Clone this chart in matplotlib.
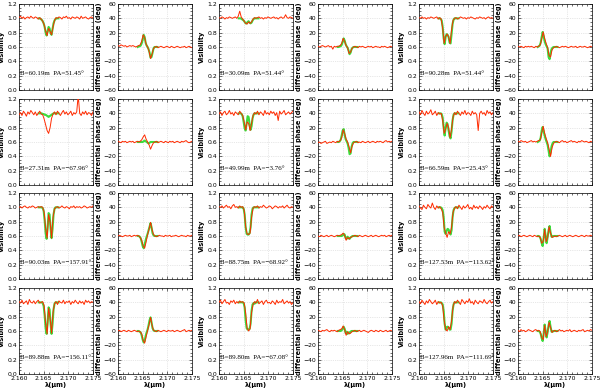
import numpy as np
import matplotlib.pyplot as plt
from matplotlib.ticker import MultipleLocator, FormatStrFormatter

plt.rcParams['font.family'] = ['DejaVu Sans']

# baselines / position angles, row by row (3 per row)
baselines = [60.19, 30.09, 90.28, 27.31, 49.99, 66.59,
             90.03, 88.75, 127.53, 89.88, 89.80, 127.96]
pos_angles = [51.45, 51.44, 51.44, -67.96, -3.76, -25.43,
              -157.91, -68.92, -113.62, -156.11, -67.08, -111.69]

# observed visibility (x100) and differential phase (deg), 2.160-2.175 um
v_obs_1 = [101,103,100,102,99,101,102,100,103,101,100,102,101,99,101, 99,96,91,82,76,86,82,77,88,97, 101,100,102,101,99,102,101,103,100,101,99,102,101,100,102,101,99,103,100,101,102,100,99,101,102,100]
dp_obs_1 = [2,1,3,2,1,2,0,1,2,1,2,1,0,1,2, 3,8,17,13,4,0,-6,-16,-10,-2, 0,1,-1,0,1,0,-1,0,1,0,-1,1,0,-1,0,1,0,-1,0,0,1,-1,0,1,0,-1]
v_obs_2 = [101,100,102,101,99,101,100,102,101,100,101,102,100,103,110, 102,99,96,93,92,95,93,95,99,101, 100,101,102,100,101,99,101,100,102,101,100,101,102,100,101,99,101,102,100,101,105,101,100,102,101,100]
dp_obs_2 = [1,0,1,2,1,0,1,2,0,1,-3,1,0,1,1, 2,5,12,8,2,-1,-9,-7,-2,0, 1,0,-1,1,0,1,0,-1,0,1,0,1,-1,0,1,0,0,-1,1,0,1,0,-1,0,1,0]
v_obs_3 = [101,100,102,100,101,99,101,100,102,101,100,101,102,99,101, 99,86,65,75,78,74,65,84,97,100, 101,99,100,102,101,100,101,99,101,100,102,101,100,99,101,100,102,101,100,101,99,101,102,100,101,100]
dp_obs_3 = [1,0,1,0,-1,1,0,1,0,1,0,-1,1,0,1, 3,11,21,12,5,-1,-12,-14,-4,-1, 0,1,0,-1,0,1,0,1,0,-1,0,1,0,0,1,-1,0,1,0,0,1,0,-1,0,1,0]
v_obs_4 = [98,101,97,103,100,96,102,99,104,101,98,102,97,100,103, 99,98,92,84,76,72,80,93,99,102, 98,103,100,97,101,104,99,102,98,100,103,97,101,99,102,125,100,97,102,99,103,98,101,100,97,102]
dp_obs_4 = [1,0,-1,1,0,1,-1,0,1,0,1,-1,0,1,0, 1,3,7,10,4,0,-4,-10,-5,-1, 0,1,-1,0,1,0,-1,1,0,-1,1,0,1,-1,0,1,0,-1,1,0,1,2,0,-1,0,1]
v_obs_5 = [99,102,97,101,103,98,100,104,99,101,97,102,100,98,103, 100,97,88,77,88,86,76,86,97,101, 99,103,98,102,100,97,104,99,101,98,103,100,102,97,101,90,103,99,101,104,98,100,102,99,101,103]
dp_obs_5 = [-1,0,-2,-1,0,1,-2,-1,0,-1,1,0,-1,1,0, 2,6,17,12,4,0,-7,-15,-6,-1, 0,1,-1,0,-1,1,0,-1,0,1,-1,0,1,0,-1,1,0,1,0,-1,1,2,0,1,0,1]
v_obs_6 = [102,98,104,100,97,103,99,101,105,98,100,103,97,101,99, 100,90,72,78,86,80,66,78,95,101, 98,103,100,97,102,99,104,98,101,100,97,103,99,101,98,76,100,103,99,101,97,104,100,102,98,101]
dp_obs_6 = [1,0,2,1,0,1,-1,0,1,2,0,1,0,1,2, 3,12,22,12,5,-1,-10,-20,-8,-2, 0,1,0,-1,1,2,0,1,-1,0,1,2,0,1,0,-1,1,0,2,1,0,1,0,-1,1,0]
v_obs_7 = [100,101,99,101,102,100,99,101,100,102,101,99,100,101,100, 101,100,93,70,57,90,80,57,86,98, 100,101,99,100,102,100,99,101,100,98,101,100,102,99,101,100,101,99,100,102,101,99,100,101,100,102]
dp_obs_7 = [0,1,0,-1,0,1,0,0,1,-1,0,1,0,1,0, -2,-6,-14,-17,-8,2,10,19,9,2, 0,-1,0,1,0,0,-1,1,0,0,1,-1,0,0,1,0,-1,0,1,0,0,-1,1,0,0,1]
v_obs_8 = [101,100,102,99,101,103,100,101,98,102,104,100,101,99,102, 100,101,96,73,63,62,64,86,99,101, 100,102,99,101,100,103,101,99,100,102,101,98,100,102,101,99,101,100,102,99,101,103,100,99,101,100]
dp_obs_8 = [0,-1,1,0,-1,0,1,-1,0,1,0,-1,0,1,0, 1,2,4,1,-6,-2,-4,-2,-1,0, 1,0,-1,1,0,-1,0,1,0,-1,0,1,-1,0,1,0,-1,0,1,0,1,-1,0,1,0,1]
v_obs_9 = [102,99,97,103,100,98,104,101,99,106,100,97,102,99,101, 98,93,72,64,58,66,63,72,93,99, 101,98,103,100,97,102,99,101,104,98,100,97,103,99,101,98,102,100,97,101,99,103,100,98,102,100]
dp_obs_9 = [0,1,-1,0,1,0,-1,0,1,0,-1,1,0,-1,0, -2,-10,-8,9,-8,-2,13,4,-2,-1, 0,-1,0,1,0,-1,0,1,-1,0,1,0,-1,0,1,0,-1,0,1,0,-1,1,0,0,1,0]
v_obs_10 = [101,99,103,98,100,102,97,104,100,99,102,98,101,103,99, 100,101,95,70,56,92,78,57,86,98, 101,97,102,100,99,103,98,101,100,102,97,101,99,103,100,98,102,99,101,97,103,100,102,99,101,100]
dp_obs_10 = [0,1,-1,0,1,0,-1,1,0,-1,0,1,0,-1,0, -1,-4,-13,-17,-8,1,9,19,8,1, 0,-1,1,0,-1,0,1,0,-1,1,0,0,1,-1,0,1,0,-1,0,1,2,-1,0,1,0,1]
v_obs_11 = [100,103,98,101,104,99,100,97,102,100,103,98,101,99,102, 100,101,99,85,64,60,63,86,97,101, 99,104,98,100,102,97,101,103,99,100,98,102,100,97,103,99,101,100,104,98,100,102,99,101,97,100]
dp_obs_11 = [1,0,-1,1,0,1,2,0,-1,1,0,1,0,-1,1, 2,3,7,2,-6,-1,-4,-3,-1,0, 1,-1,0,1,-1,0,1,0,-1,-2,0,1,0,-1,1,0,-1,1,0,-1,0,1,-1,0,1,0]
v_obs_12 = [101,98,103,100,97,102,99,104,101,98,100,103,97,101,99, 100,95,75,62,60,66,62,74,94,101, 99,103,100,97,104,101,98,102,100,105,99,101,97,103,100,98,102,101,99,104,100,98,101,103,99,101]
dp_obs_12 = [1,-1,2,0,1,-1,0,2,1,0,-1,1,2,0,1, -1,-9,-12,8,-8,-1,12,5,-2,0, 1,-1,0,2,0,1,-1,0,1,0,2,-1,0,1,0,-1,1,0,1,2,-1,0,1,0,2,1]

# model visibility (x100) and phase (deg), 2.1640-2.1680 um
v_mod_1 = [100,100,99,98,96,93,88,80,76,82,88,86,79,77,85,93,97,99,100,100,100]
dp_mod_1 = [0,1,1,2,5,10,17,14,6,2,0,-3,-8,-15,-14,-8,-2,0,0,0,0]
v_mod_2 = [100,100,100,99,98,97,95,93,93,95,96,94,93,94,97,99,100,100,100,100,100]
dp_mod_2 = [0,0,1,1,3,7,12,9,4,1,-1,-5,-10,-8,-3,-1,0,0,0,0,0]
v_mod_3 = [100,100,99,97,88,72,64,74,78,77,74,66,65,78,92,98,100,100,100,100,100]
dp_mod_3 = [0,1,2,6,14,21,15,8,4,1,-2,-14,-17,-8,-3,-1,0,0,0,0,0]
v_mod_4 = [100,100,100,100,99,99,98,98,97,96,95,96,97,98,99,100,100,100,100,100,100]
dp_mod_4 = [0,0,0,0,0,0,1,2,1,0,-1,-2,-1,0,0,0,0,0,0,0,0]
v_mod_5 = [100,100,100,99,96,88,79,76,86,96,95,85,77,82,93,98,100,100,100,100,100]
dp_mod_5 = [0,0,1,3,9,16,18,10,4,1,-2,-8,-17,-16,-7,-2,0,0,0,0,0]
v_mod_6 = [100,100,100,99,94,80,69,80,87,85,76,68,65,75,90,98,100,100,100,100,100]
dp_mod_6 = [0,1,2,6,16,21,15,9,4,0,-4,-12,-20,-15,-6,-2,0,0,0,0,0]
v_mod_7 = [100,100,100,100,99,95,82,64,56,72,92,90,70,57,70,90,98,100,100,100,100]
dp_mod_7 = [0,0,-1,-3,-8,-14,-17,-12,-6,-1,3,8,13,18,12,4,1,0,0,0,0]
v_mod_8 = [100,100,100,100,100,98,90,72,63,62,62,64,72,90,98,100,100,100,100,100,100]
dp_mod_8 = [0,0,0,0,0,1,3,2,-3,-4,-1,-3,-4,-2,-1,0,0,0,0,0,0]
v_mod_9 = [100,100,100,99,96,86,66,63,67,70,69,65,62,68,86,96,99,100,100,100,100]
dp_mod_9 = [0,0,-1,-4,-10,-14,-3,10,0,-10,-2,8,14,5,-1,-1,0,0,0,0,0]
v_mod_10 = [100,100,100,100,99,95,82,64,56,72,93,90,70,56,70,90,98,100,100,100,100]
dp_mod_10 = [0,0,-1,-2,-6,-12,-16,-14,-7,-2,2,8,15,19,12,4,1,0,0,0,0]
v_mod_11 = [100,100,100,100,100,99,93,75,64,62,62,63,70,88,97,99,98,100,100,100,100]
dp_mod_11 = [0,0,0,0,1,3,6,3,-3,-1,-4,-2,-3,-1,0,0,0,0,0,0,0]
v_mod_12 = [100,100,100,99,97,88,70,62,65,66,65,62,62,70,88,97,100,100,100,100,100]
dp_mod_12 = [0,0,-1,-4,-10,-14,-4,9,0,-9,-2,8,14,6,-1,-1,0,0,0,0,0]

v_obs = [v_obs_1, v_obs_2, v_obs_3, v_obs_4, v_obs_5, v_obs_6,
         v_obs_7, v_obs_8, v_obs_9, v_obs_10, v_obs_11, v_obs_12]
dp_obs = [dp_obs_1, dp_obs_2, dp_obs_3, dp_obs_4, dp_obs_5, dp_obs_6,
          dp_obs_7, dp_obs_8, dp_obs_9, dp_obs_10, dp_obs_11, dp_obs_12]
v_mod = [v_mod_1, v_mod_2, v_mod_3, v_mod_4, v_mod_5, v_mod_6,
         v_mod_7, v_mod_8, v_mod_9, v_mod_10, v_mod_11, v_mod_12]
dp_mod = [dp_mod_1, dp_mod_2, dp_mod_3, dp_mod_4, dp_mod_5, dp_mod_6,
          dp_mod_7, dp_mod_8, dp_mod_9, dp_mod_10, dp_mod_11, dp_mod_12]

RED = '#ff2a00'
GREEN = '#3ddc3d'
W, H = 600., 392.
lefts = [19, 118, 219, 318, 419, 518]
tops = [4, 99, 193, 288]
aw, ah = 74, 86


def style(ax, phase, bottom):
	ax.set_xlim(2.160, 2.175)
	ax.xaxis.set_major_locator(MultipleLocator(0.005))
	ax.xaxis.set_minor_locator(MultipleLocator(0.001))
	ax.xaxis.set_major_formatter(FormatStrFormatter('%.3f'))
	if phase:
		ax.set_ylim(-60, 60)
		ax.yaxis.set_major_locator(MultipleLocator(20))
		ax.yaxis.set_minor_locator(MultipleLocator(5))
		ax.set_ylabel('differential phase (deg)', fontsize=4.8, fontweight='bold', labelpad=1)
	else:
		ax.set_ylim(0, 1.2)
		ax.yaxis.set_major_locator(MultipleLocator(0.2))
		ax.yaxis.set_minor_locator(MultipleLocator(0.05))
		ax.yaxis.set_major_formatter(FormatStrFormatter('%.1f'))
		ax.set_ylabel('Visibility', fontsize=4.8, fontweight='bold', labelpad=1.5)
	ax.tick_params(which='both', direction='in', top=True, right=True,
		labelsize=4.4, width=0.4, pad=1.5)
	ax.tick_params(which='major', length=2.5)
	ax.tick_params(which='minor', length=1.2)
	ax.grid(True, which='major', color='0.82', linestyle=':', linewidth=0.5)
	for s in ax.spines.values():
		s.set_linewidth(0.5)
	if bottom:
		ax.set_xlabel('λ(μm)', fontsize=4.8, fontweight='bold', labelpad=1)
	else:
		ax.tick_params(labelbottom=False)


fig = plt.figure(figsize=(W/100, H/100), dpi=100)

for k in range(12):
	row = k // 3
	col = (k % 3) * 2
	bottom = (row == 3)
	for j, phase in enumerate([False, True]):
		l = lefts[col+j]
		t = tops[row]
		ax = fig.add_axes([l/W, 1-(t+ah)/H, aw/W, ah/H])
		style(ax, phase, bottom)
		if phase:
			yo = np.array(dp_obs[k], float)
			ym = np.array(dp_mod[k], float)
		else:
			yo = np.array(v_obs[k], float)/100
			ym = np.array(v_mod[k], float)/100
		lo = np.linspace(2.160, 2.175, len(yo))
		lm = np.linspace(2.164, 2.168, len(ym))
		ax.plot(lm, ym, color=GREEN, lw=1.5, zorder=3)
		ax.plot(lo, yo, color=RED, lw=0.7, zorder=4)
		if not phase:
			pa = ('%.2f' % pos_angles[k]).replace('-', '−')
			ax.text(2.1603, 0.23, 'B=%.2fm  PA=%s°' % (baselines[k], pa),
				family=['Liberation Serif', 'DejaVu Serif'],
				fontsize=5.0, va='center', ha='left', zorder=5)

fig.savefig('out.png', dpi=100)
